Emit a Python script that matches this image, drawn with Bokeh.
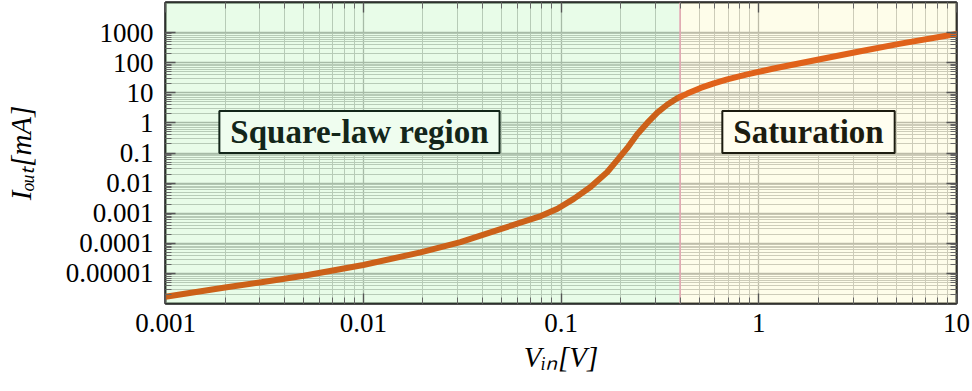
import numpy as np
from bokeh.plotting import figure
from bokeh.models import Range1d, FixedTicker, LogAxis, BoxAnnotation, Span, Label
from bokeh.embed import file_html
from bokeh.resources import INLINE

# ---- data ----
v_in = [0.001, 0.002, 0.003, 0.005, 0.01, 0.0195, 0.031, 0.049, 0.079, 0.096,
        0.116, 0.141, 0.171, 0.192, 0.216, 0.243, 0.273, 0.307, 0.344, 0.387,
        0.4, 0.435, 0.508, 0.593, 0.693, 0.874, 1.19, 2.01, 3.27, 5.21, 10.0]
i_out = [1.67e-6, 3.4e-6, 5.0e-6, 8.4e-6, 1.9e-5, 5.0e-5, 1.1e-4, 2.9e-4, 8.0e-4,
         1.4e-3, 3.0e-3, 7.4e-3, 0.023, 0.057, 0.145, 0.42, 1.0, 2.2, 4.0, 6.6,
         7.3, 9.4, 14.5, 20.5, 28.0, 41.0, 64.0, 128.0, 240.0, 430.0, 900.0]
boundary_v = 0.4

x_ticks = [0.001, 0.01, 0.1, 1, 10]
x_tick_labels = ["0.001", "0.01", "0.1", "1", "10"]
y_ticks = [1e-5, 1e-4, 1e-3, 1e-2, 1e-1, 1, 10, 100, 1000]
y_tick_labels = ["0.00001", "0.0001", "0.001", "0.01", "0.1", "1", "10", "100", "1000"]
region_names = ["Square-law region", "Saturation"]
x_label = "V\u1d62\u2099[V]"
y_label = "I\u2092\u1d64\u209c[mA]"

# ---- figure ----
p = figure(width=972, height=391, x_axis_type="log", y_axis_type="log",
           x_range=Range1d(0.001, 10), y_range=Range1d(1e-6, 1e4),
           output_backend="svg", toolbar_location=None,
           min_border_left=165, min_border_right=16, min_border_top=2,
           min_border_bottom=88)
p.background_fill_color = "white"
p.border_fill_color = "white"
p.outline_line_color = "#151515"
p.outline_line_width = 2.5

x_minor = [m * 10.0 ** e for e in range(-3, 1) for m in range(2, 10)]
y_minor = [m * 10.0 ** e for e in range(-6, 3) for m in range(2, 10)]
xt = FixedTicker(ticks=x_ticks, minor_ticks=x_minor)
yt = FixedTicker(ticks=y_ticks, minor_ticks=y_minor)

serif = "Liberation Serif"

def style_axis(ax, ticker, show_labels):
    ax.ticker = ticker
    ax.axis_line_color = None
    ax.major_tick_in = 10
    ax.major_tick_out = 0
    ax.minor_tick_in = 6
    ax.minor_tick_out = 0
    ax.major_tick_line_color = "#555555"
    ax.minor_tick_line_color = "#666666"
    ax.major_tick_line_width = 1.3
    ax.minor_tick_line_width = 1
    if show_labels:
        ax.major_label_text_font = serif
        ax.major_label_text_font_size = "27px"
        ax.major_label_text_color = "black"
    else:
        ax.major_label_text_font_size = "1px"
        ax.major_label_text_alpha = 0
        ax.major_label_standoff = 0

style_axis(p.xaxis[0], xt, True)
style_axis(p.yaxis[0], yt, True)
p.xaxis[0].major_label_overrides = {t: s for t, s in zip(x_ticks, x_tick_labels)}
p.yaxis[0].major_label_overrides = {t: s for t, s in zip(y_ticks, y_tick_labels)}
p.xaxis[0].major_label_standoff = 10
p.yaxis[0].major_label_standoff = 12

p.xaxis[0].axis_label = x_label
p.yaxis[0].axis_label = y_label
for ax in (p.xaxis[0], p.yaxis[0]):
    ax.axis_label_text_font = serif
    ax.axis_label_text_font_style = "italic"
    ax.axis_label_text_font_size = "29px"
    ax.axis_label_text_color = "black"
p.xaxis[0].axis_label_standoff = 6
p.yaxis[0].axis_label_standoff = 26

top_ax = LogAxis()
right_ax = LogAxis()
style_axis(top_ax, xt, False)
style_axis(right_ax, yt, False)
p.add_layout(top_ax, "above")
p.add_layout(right_ax, "right")

# grid
p.xgrid.grid_line_color = "#7c7c7c"
p.ygrid.grid_line_color = "#7c7c7c"
p.xgrid.minor_grid_line_color = "#9c9c9c"
p.ygrid.minor_grid_line_color = "#9c9c9c"
p.xgrid.grid_line_width = 1.3
p.ygrid.grid_line_width = 1.3

# region fills (over the grid, under the curve)
green = BoxAnnotation(right=boundary_v, fill_color="#d1f9d1", fill_alpha=0.5,
                      line_color=None, level="underlay")
yellow = BoxAnnotation(left=boundary_v, fill_color="#fdfbd5", fill_alpha=0.5,
                       line_color=None, level="underlay")
p.add_layout(green)
p.add_layout(yellow)

p.add_layout(Span(location=boundary_v, dimension="height", line_color="#e6a3b2",
                  line_width=1.5, level="underlay"))

# curve
v = np.array(v_in)
i = np.array(i_out)
lm = v <= boundary_v
rm = v >= boundary_v
p.line(v[lm], i[lm], line_color="#cc6119", line_width=6, line_cap="round",
       line_join="round")
p.line(v[rm], i[rm], line_color="#e0621a", line_width=6, line_cap="round",
       line_join="round")

# region labels
p.add_layout(Label(x=0.00957, y=0.5, text=region_names[0], text_font=serif,
                   text_font_style="bold", text_font_size="33px", text_color="#13261a",
                   text_align="center", text_baseline="middle",
                   background_fill_color="#effdef", border_line_color="#13261a",
                   border_line_width=2, padding=(11, 3)))
p.add_layout(Label(x=1.785, y=0.5, text=region_names[1], text_font=serif,
                   text_font_style="bold", text_font_size="33px", text_color="#1c1c10",
                   text_align="center", text_baseline="middle",
                   background_fill_color="#fffef0", border_line_color="#1c1c10",
                   border_line_width=2, padding=(11, 3)))

open("out.html", "w").write(file_html(p, INLINE))
